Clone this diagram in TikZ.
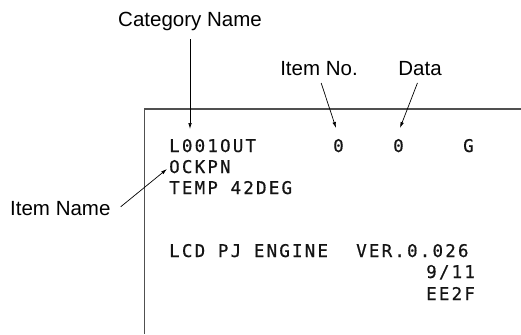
\documentclass[tikz,border=0pt]{standalone}
\usepackage{fontspec}
\setmainfont{Liberation Sans}
\newfontfamily\lcdfont[LetterSpace=12.5, FakeBold=0.6]{DejaVu Sans Mono}
\usepackage{xcolor}
\usetikzlibrary{arrows.meta,positioning,calc}
\definecolor{framegray}{RGB}{80,80,80}
\definecolor{lcdblack}{RGB}{20,20,20}

\begin{document}
\begin{tikzpicture}[x=1pt, y=-1pt,
  lcd/.style={inner sep=0pt, anchor=base west, text=lcdblack, font=\lcdfont\fontsize{17.5}{19}\selectfont},
  callout/.style={inner sep=0pt, anchor=base, font=\fontsize{20.5}{24}\selectfont},
  pointer/.style={-{Latex[length=6pt,width=3.6pt]}, line width=0.7pt, shorten <=7pt}]
\useasboundingbox (0,0) rectangle (521,334);

% screen frame
\draw[framegray, line width=1.8pt] (521,109) -- (144.5,109) -- (144.5,334);

% screen contents
\node[lcd] (category) at (169,152) {L001OUT};
\node[lcd] (itemno) at (333,152) {0};
\node[lcd] (data) at (393,152) {0};
\node[lcd] (grade) at (463,152) {G};
\node[lcd] (itemname) at (169,173) {OCKPN};
\node[lcd] (temp) at (169,194) {TEMP 42DEG};
\node[lcd] (engine) at (169,257) {LCD PJ ENGINE};
\node[lcd] (version) at (356,257) {VER.0.026};
\node[lcd] (date) at (426,278) {9/11};
\node[lcd] (checksum) at (426,300) {EE2F};

% callouts
\node[callout] (catlabel) at (190,26.7) {Category Name};
\node[callout] (itemnolabel) at (319,76) {Item No.};
\node[callout] (datalabel) at (420,76) {Data};
\node[callout, anchor=base west] (namelabel) at (10,215) {Item Name};

\coordinate (cattip) at (190,129);
\coordinate (itemnotip) at (336,128);
\coordinate (datatip) at (400,128);
\coordinate (nametip) at (167,169);

\draw[pointer, shorten <=8pt] (catlabel.south) -- (cattip);
\draw[pointer] (itemnolabel.south) -- (itemnotip);
\draw[pointer] (datalabel.south) -- (datatip);
\draw[pointer, shorten <=13pt] (namelabel.base east) -- (nametip);

\end{tikzpicture}
\end{document}
